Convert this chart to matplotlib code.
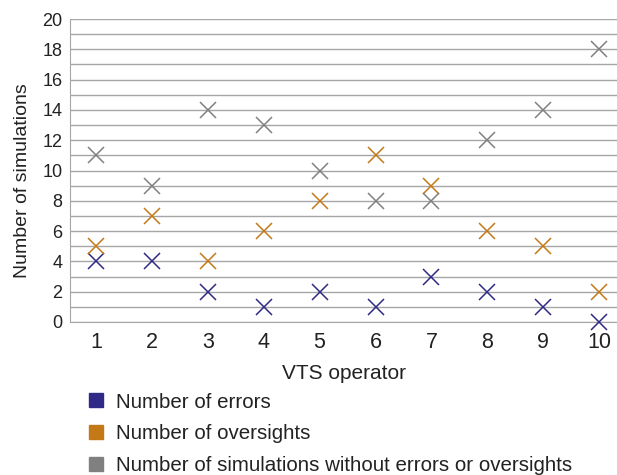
import matplotlib.pyplot as plt
from matplotlib.lines import Line2D

plt.rcParams['font.family'] = ['Liberation Sans', 'DejaVu Sans']

operators = [1, 2, 3, 4, 5, 6, 7, 8, 9, 10]
errors = [4, 4, 2, 1, 2, 1, 3, 2, 1, 0]
oversights = [5, 7, 4, 6, 8, 11, 9, 6, 5, 2]
clean_runs = [11, 9, 14, 13, 10, 8, 8, 12, 14, 18]

labels = [
    "Number of errors",
    "Number of oversights",
    "Number of simulations without errors or oversights",
]
colors = ["#2e2a85", "#c37a16", "#808080"]

fig = plt.figure(figsize=(6.17, 4.75), dpi=100)
ax = fig.add_axes([70 / 617, 1 - 322 / 475, 1 - 70 / 617, (322 - 19) / 475])

# horizontal grid at every unit
for y in range(0, 21):
    ax.axhline(y, color="#a6a6a6", linewidth=1.0, zorder=0)

for series, color in zip([errors, oversights, clean_runs], colors):
    ax.plot(operators, series, linestyle="none", marker="x", markersize=11,
            markeredgewidth=1.1, color=color, zorder=3, clip_on=False)

ax.set_xlim(0.535, 10.32)
ax.set_ylim(0, 20)
ax.set_yticks(range(0, 21, 2))
ax.set_xticks(operators)
ax.tick_params(length=0, labelcolor="#222222")
ax.tick_params(axis="x", pad=7, labelsize=15.5)
ax.tick_params(axis="y", pad=5.5, labelsize=13)

for side in ["top", "right"]:
    ax.spines[side].set_visible(False)
ax.spines["left"].set_color("#a6a6a6")
ax.spines["bottom"].set_color("#a6a6a6")

ax.set_ylabel("Number of simulations", fontsize=14, color="#222222")
ax.yaxis.set_label_coords(-0.072, 0.465)
ax.set_xlabel("VTS operator", fontsize=15, color="#222222", labelpad=8)

handles = [Line2D([], [], linestyle="none", marker="s", markersize=10.5,
                  color=c) for c in colors]
fig.legend(handles, labels, loc="upper left", bbox_to_anchor=(67 / 617, 1 - 374 / 475),
           frameon=False, fontsize=14.8, labelspacing=0.62, handletextpad=0.5,
           handlelength=1.0, labelcolor="#222222")

fig.savefig("out.png", dpi=100)
